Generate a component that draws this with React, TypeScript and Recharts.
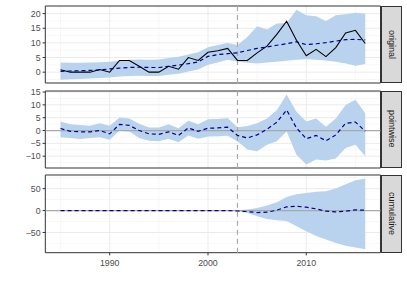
import React from "react";
import {
  ComposedChart,
  Area,
  Line,
  XAxis,
  YAxis,
  CartesianGrid,
  ReferenceLine,
  ReferenceArea,
} from "recharts";

const years = [
  1985, 1986, 1987, 1988, 1989, 1990, 1991, 1992, 1993, 1994, 1995, 1996, 1997, 1998, 1999, 2000,
  2001, 2002, 2003, 2004, 2005, 2006, 2007, 2008, 2009, 2010, 2011, 2012, 2013, 2014, 2015, 2016,
];

const original = [
  0.8, 0, 0, 0, 0.9, 0, 4, 4, 2, 0, 0, 2, 1, 5, 4, 6.8, 7.3, 8.1, 4, 4, 6.6, 8.9, 12.9, 17.4,
  10.9, 5.6, 7.8, 5.3, 8.4, 13.4, 14.3, 9.8,
];
const predicted = [
  0.3, 0.4, 0.5, 0.6, 0.8, 1.1, 1.4, 1.6, 1.7, 1.6, 1.6, 2.0, 2.4, 2.9, 3.5, 5.4, 6.0, 6.3, 6.6,
  7.4, 8.1, 8.6, 9.2, 9.7, 10.4, 9.4, 9.7, 10.1, 10.6, 11.1, 11.2, 11.0,
];
const predLower = [
  -2.6, -2.4, -2.3, -2.2, -2.0, -1.8, -1.5, -1.3, -1.2, -1.3, -1.3, -0.9, -0.5, 0.2, 0.9, 2.5, 3.3,
  4.2, 3.6, 3.2, 3.0, 3.3, 3.6, 3.9, 4.2, 4.4, 4.2, 4.0, 3.6, 3.0, 2.2, 2.8,
];
const predUpper = [
  3.3, 3.2, 3.2, 3.3, 3.4, 3.6, 4.0, 4.2, 4.3, 4.2, 4.3, 4.8, 5.3, 6.0, 6.8, 8.5, 9.3, 10.0, 9.3,
  12.0, 15.7, 14.6, 16.6, 16.8, 21.3, 19.4, 19.1, 17.5, 19.4, 19.8, 20.3, 20.0,
];

const pointwise = [
  0.8, -0.3, -0.5, -0.5, 0, -1.3, 2.4, 2.0, 0, -1.3, -1.5, -0.5, -1.9, 1.0, -0.3, 0.9, 1.0, 1.3,
  -1.9, -2.9, -1.7, 0.5, 3.2, 8.0, 1.0, -3.2, -1.9, -4.0, -1.7, 2.8, 3.3, -0.3,
];
const pointLower = [
  -2.6, -2.9, -3.3, -2.9, -2.6, -3.6, -0.1, -0.4, -2.9, -4.0, -4.2, -3.2, -4.6, -1.9, -3.2, -2.3,
  -2.2, -2.0, -4.2, -7.4, -8.1, -5.5, -4.2, -0.4, -9.4, -13.2, -11.3, -11.7, -10.9, -6.8, -5.5,
  -10.0,
];
const pointUpper = [
  3.5, 2.4, 2.2, 1.9, 2.8, 1.9, 5.1, 4.7, 2.6, 1.2, 1.2, 2.4, 0.9, 3.8, 2.4, 4.4, 4.5, 4.9, 1.3,
  1.8, 2.8, 4.7, 7.9, 14.0, 7.3, 3.5, 4.7, 1.5, 4.7, 9.9, 12.0, 6.7,
];

const cumulative = [
  0, 0, 0, 0, 0, 0, 0, 0, 0, 0, 0, 0, 0, 0, 0, 0, 0, 0, -1, -2.3, -4.6, -3.8, 0.8, 8.4, 9.9, 7.6,
  3.8, -1.5, -3, -1.5, 1.5, 0.8,
];
const cumLower = [
  0, 0, 0, 0, 0, 0, 0, 0, 0, 0, 0, 0, 0, 0, 0, 0, 0, 0, -1.5, -5.3, -13, -19, -22, -24, -36, -47,
  -58, -66, -74, -80, -84, -88,
];
const cumUpper = [
  0, 0, 0, 0, 0, 0, 0, 0, 0, 0, 0, 0, 0, 0, 0, 0, 0, 0, 0.5, 2.3, 6, 11.5, 19, 31, 37, 40, 43, 44,
  50, 60, 69, 73,
];

const interventionYear = 2003;
const xMajor = [1990, 2000, 2010];
const xMinor = [1985, 1995, 2005, 2015];

const panelNames = ["original", "pointwise", "cumulative"];

const rows = years.map((year, i) => ({
  year,
  original: original[i],
  predicted: predicted[i],
  predBand: [predLower[i], predUpper[i]],
  pointwise: pointwise[i],
  pointBand: [pointLower[i], pointUpper[i]],
  cumulative: cumulative[i],
  cumBand: [cumLower[i], cumUpper[i]],
}));

const X_DOMAIN: [number, number] = [1983.45, 2017.55];
const FONT = "'Liberation Sans', Arial, Helvetica, sans-serif";
const BAND = "#b9d3ee";
const DARKBLUE = "#00008b";
const DARKGREY = "#a9a9a9";
const PLOT_LEFT = 45.3;
const PLOT_RIGHT = 380.5;
const STRIP_RIGHT = 401.5;
const PAD = 6;

const fmt = (v: number) => (v < 0 ? "\u2212" + Math.abs(v) : String(v));

type PanelCfg = {
  name: string;
  top: number;
  height: number;
  domain: [number, number];
  ticks: number[];
  minor: number[];
  band: string;
  mid: string;
  actual?: string;
  zeroLine: boolean;
  showX: boolean;
};

const panels: PanelCfg[] = [
  {
    name: panelNames[0],
    top: 5.7,
    height: 77,
    domain: [-3.7, 22.6],
    ticks: [0, 5, 10, 15, 20],
    minor: [-2.5, 2.5, 7.5, 12.5, 17.5],
    band: "predBand",
    mid: "predicted",
    actual: "original",
    zeroLine: false,
    showX: false,
  },
  {
    name: panelNames[1],
    top: 90.7,
    height: 77,
    domain: [-14.6, 15.4],
    ticks: [-10, -5, 0, 5, 10, 15],
    minor: [-12.5, -7.5, -2.5, 2.5, 7.5, 12.5],
    band: "pointBand",
    mid: "pointwise",
    zeroLine: true,
    showX: false,
  },
  {
    name: panelNames[2],
    top: 175,
    height: 77.7,
    domain: [-96, 81],
    ticks: [-50, 0, 50],
    minor: [-75, -25, 25, 75],
    band: "cumBand",
    mid: "cumulative",
    zeroLine: true,
    showX: true,
  },
];

const tickStyle = { fontSize: 8.8, fill: "#4d4d4d", fontFamily: FONT };

function Panel({ cfg }: { cfg: PanelCfg }) {
  const xAxisH = cfg.showX ? 30 : 0;
  const bottomPad = cfg.showX ? 0 : PAD;
  return (
    <div style={{ position: "absolute", left: 0, top: cfg.top - PAD }}>
      <ComposedChart
        width={407}
        height={cfg.height + xAxisH + PAD + bottomPad}
        data={rows}
        margin={{ top: PAD, right: 407 - PLOT_RIGHT, bottom: bottomPad, left: 0 }}
      >
        <CartesianGrid
          horizontalValues={cfg.minor}
          verticalValues={xMinor}
          stroke="#f2f2f2"
          strokeWidth={0.6}
        />
        <CartesianGrid
          horizontalValues={cfg.ticks}
          verticalValues={xMajor}
          stroke="#ebebeb"
          strokeWidth={1}
        />
        <XAxis
          dataKey="year"
          type="number"
          domain={X_DOMAIN}
          allowDataOverflow
          ticks={xMajor}
          interval={0}
          hide={!cfg.showX}
          height={xAxisH}
          axisLine={false}
          tickSize={2.7}
          tickMargin={4.5}
          tickLine={{ stroke: "#333333" }}
          tick={tickStyle}
        />
        <YAxis
          type="number"
          domain={cfg.domain}
          allowDataOverflow
          ticks={cfg.ticks}
          interval={0}
          width={PLOT_LEFT}
          axisLine={false}
          tickSize={2.7}
          tickMargin={2}
          tickLine={{ stroke: "#333333" }}
          tick={tickStyle}
          tickFormatter={fmt}
        />
        <Area
          dataKey={cfg.band}
          type="linear"
          stroke="none"
          fill={BAND}
          fillOpacity={1}
          isAnimationActive={false}
          activeDot={false}
        />
        {cfg.zeroLine && <ReferenceLine y={0} stroke={DARKGREY} strokeWidth={1.3} />}
        <ReferenceLine
          x={interventionYear}
          stroke={DARKGREY}
          strokeWidth={1.2}
          strokeDasharray="5 4"
        />
        {cfg.actual && (
          <Line
            dataKey={cfg.actual}
            type="linear"
            stroke="#000000"
            strokeWidth={1.1}
            dot={false}
            activeDot={false}
            isAnimationActive={false}
          />
        )}
        <Line
          dataKey={cfg.mid}
          type="linear"
          stroke={DARKBLUE}
          strokeWidth={1.2}
          strokeDasharray="4 3"
          dot={false}
          activeDot={false}
          isAnimationActive={false}
        />
        <ReferenceArea
          x1={X_DOMAIN[0]}
          x2={X_DOMAIN[1]}
          y1={cfg.domain[0]}
          y2={cfg.domain[1]}
          ifOverflow="visible"
          fill="none"
          fillOpacity={0}
          stroke="#333333"
          strokeWidth={1}
        />
      </ComposedChart>
      <div
        style={{
          position: "absolute",
          left: PLOT_RIGHT,
          top: PAD,
          width: STRIP_RIGHT - PLOT_RIGHT,
          height: cfg.height,
          boxSizing: "border-box",
          background: "#d9d9d9",
          border: "1px solid #333333",
          display: "flex",
          alignItems: "center",
          justifyContent: "center",
        }}
      >
        <span
          style={{
            writingMode: "vertical-rl",
            fontFamily: FONT,
            fontSize: 9,
            color: "#1a1a1a",
            lineHeight: 1,
          }}
        >
          {cfg.name}
        </span>
      </div>
    </div>
  );
}

export default function App() {
  return (
    <div
      style={{
        position: "absolute",
        left: 0,
        top: 0,
        width: 407,
        height: 291,
        background: "#ffffff",
        fontFamily: FONT,
      }}
    >
      {panels.map((p) => (
        <Panel key={p.name} cfg={p} />
      ))}
    </div>
  );
}
